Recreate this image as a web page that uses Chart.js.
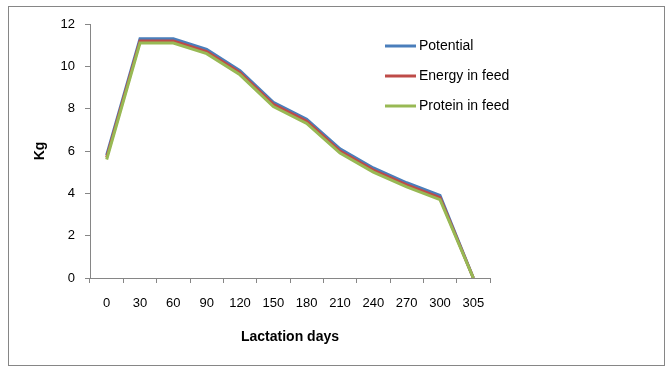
<!DOCTYPE html>
<html>
<head>
<meta charset="utf-8">
<script src="https://cdn.jsdelivr.net/npm/chart.js@4.4.0/dist/chart.umd.min.js"></script>
<style>
  html, body { margin: 0; padding: 0; background: #fff; }
  #wrap { position: relative; width: 667px; height: 370px; }
</style>
</head>
<body>
<div id="wrap"><canvas id="grafica" width="667" height="370"></canvas></div>
<script>
// lactation days (categories)
const dias = ['0', '30', '60', '90', '120', '150', '180', '210', '240', '270', '300', '305'];
// milk yield, kg
const potencial = [5.8, 11.3, 11.3, 10.8, 9.8, 8.3, 7.5, 6.1, 5.2, 4.5, 3.9, 0];
const energia   = [5.7, 11.2, 11.2, 10.7, 9.7, 8.2, 7.4, 6.0, 5.1, 4.4, 3.8, 0];
const proteina  = [5.6, 11.1, 11.1, 10.6, 9.6, 8.1, 7.3, 5.9, 5.0, 4.3, 3.7, 0];
const ticksY = [0, 2, 4, 6, 8, 10, 12];

const fuente = 'Liberation Sans';
const gris = '#868686';

// marco exterior y leyenda dentro del area
const extras = {
    id: 'extras',
    beforeDraw(chart) {
        const ctx = chart.ctx;
        ctx.save();
        ctx.fillStyle = '#fff';
        ctx.fillRect(0, 0, chart.width, chart.height);
        ctx.strokeStyle = gris;
        ctx.lineWidth = 1;
        ctx.strokeRect(8.5, 6.5, 656, 359);
        ctx.restore();
    },
    afterDraw(chart) {
        const ctx = chart.ctx;
        ctx.save();
        ctx.font = '14px "' + fuente + '"';
        ctx.textBaseline = 'middle';
        chart.data.datasets.forEach(function (ds, i) {
            const y = 46 + i * 30;
            ctx.strokeStyle = ds.borderColor;
            ctx.lineWidth = 3;
            ctx.beginPath();
            ctx.moveTo(385, y);
            ctx.lineTo(416, y);
            ctx.stroke();
            ctx.fillStyle = '#000';
            ctx.fillText(ds.label, 419, y);
        });
        ctx.restore();
    }
};

var ctx = document.getElementById('grafica').getContext('2d');
const data = {
    labels: dias,
    datasets: [{
        label: 'Potential',
        data: potencial,
        borderColor: '#4A7EBB',
        order: 3,
    }, {
        label: 'Energy in feed',
        data: energia,
        borderColor: '#BE4B48',
        order: 2,
    }, {
        label: 'Protein in feed',
        data: proteina,
        borderColor: '#98B954',
        order: 1,
    }],
};
const config = {
    type: 'line',
    data: data,
    options: {
        responsive: false,
        animation: false,
        layout: { padding: { left: 0, top: 24, right: 177, bottom: 22 } },
        elements: {
            line: { borderWidth: 3, tension: 0, fill: false },
            point: { radius: 0 },
        },
        plugins: {
            legend: { display: false },
            tooltip: { enabled: false },
        },
        scales: {
            x: {
                offset: true,
                afterFit: function (s) { s.height = 70; },
                grid: { offset: true, drawOnChartArea: false, drawTicks: true, tickLength: 5, color: gris },
                border: { color: gris },
                ticks: { color: '#000', padding: 13, font: { family: fuente, size: 13 }, maxRotation: 0, autoSkip: false },
                title: {
                    display: true,
                    text: 'Lactation days',
                    color: '#000',
                    font: { family: fuente, size: 14, weight: 'bold' },
                    padding: { top: 0, bottom: 2 },
                },
            },
            y: {
                min: 0,
                max: 12,
                afterFit: function (s) { s.width = 90; },
                afterBuildTicks: function (s) { s.ticks = ticksY.map(function (v) { return { value: v }; }); },
                grid: { drawOnChartArea: false, drawTicks: true, tickLength: 5, color: gris },
                border: { color: gris },
                ticks: { color: '#000', padding: 10, font: { family: fuente, size: 13 } },
                title: {
                    display: true,
                    text: 'Kg',
                    color: '#000',
                    font: { family: fuente, size: 14, weight: 'bold' },
                    padding: { top: 32, bottom: 0 },
                },
            },
        },
    },
    plugins: [extras],
};
let miGrafica = new Chart(ctx, config);
</script>
</body>
</html>
